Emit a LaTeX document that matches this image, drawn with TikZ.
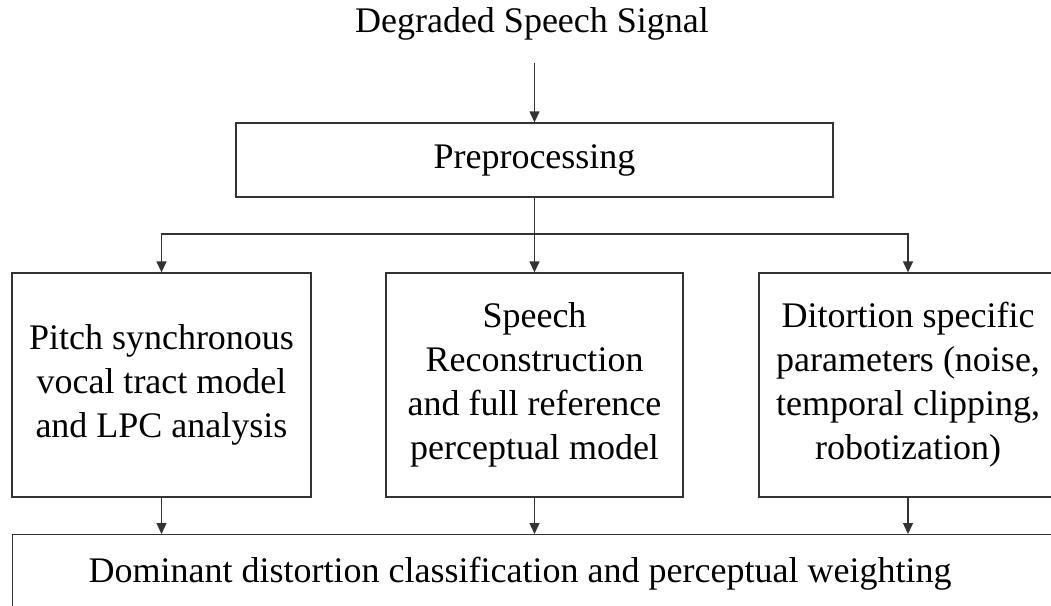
\documentclass[tikz,border=0pt]{standalone}
\usepackage{fontspec}
\setmainfont{Liberation Serif}
\usetikzlibrary{arrows.meta}

\begin{document}
\begin{tikzpicture}[x=1pt,y=-1pt]
\tikzstyle{every node}+=[inner sep=0pt, font=\fontsize{36}{44}\selectfont]
\tikzstyle{block}=[draw=black!80, line width=1.3pt, align=center, minimum height=224pt]
\tikzstyle{wire}=[draw=black!80, line width=1.3pt]
\tikzstyle{arr}=[wire, -{Triangle[length=11pt,width=10pt]}]
\useasboundingbox (0,0) rectangle (1051,605);
\node (signal) at (532,24) {Degraded Speech Signal};
\coordinate (signalout) at (534.5,63);
\node [block, minimum width=597pt, minimum height=74pt] (prep) at (534.5,160) {Preprocessing};
\coordinate (split) at (534.5,234);
\node [block, minimum width=299pt] (pitch) at (161.5,385) {Pitch synchronous\\vocal tract model\\and LPC analysis};
\node [block, minimum width=297pt] (recon) at (534.5,385) {Speech\\Reconstruction\\and full reference\\perceptual model};
\node [block, minimum width=298pt] (param) at (908,385) {Ditortion specific\\parameters (noise,\\temporal clipping,\\robotization)};
\node [draw=black!80, line width=1.3pt, anchor=north west, text width=908pt, inner xsep=76pt, align=flush left, minimum height=78pt] (weight) at (12,534) {Dominant distortion classification and perceptual weighting};
\draw [arr] (signalout) -- (prep);
\draw [wire] (prep) -- (split);
\draw [arr] (split) -| (pitch);
\draw [arr] (split) -- (recon);
\draw [arr] (split) -| (param);
\draw [arr] (pitch) -- (pitch |- weight.north);
\draw [arr] (recon) -- (recon |- weight.north);
\draw [arr] (param) -- (param |- weight.north);
\end{tikzpicture}
\end{document}
